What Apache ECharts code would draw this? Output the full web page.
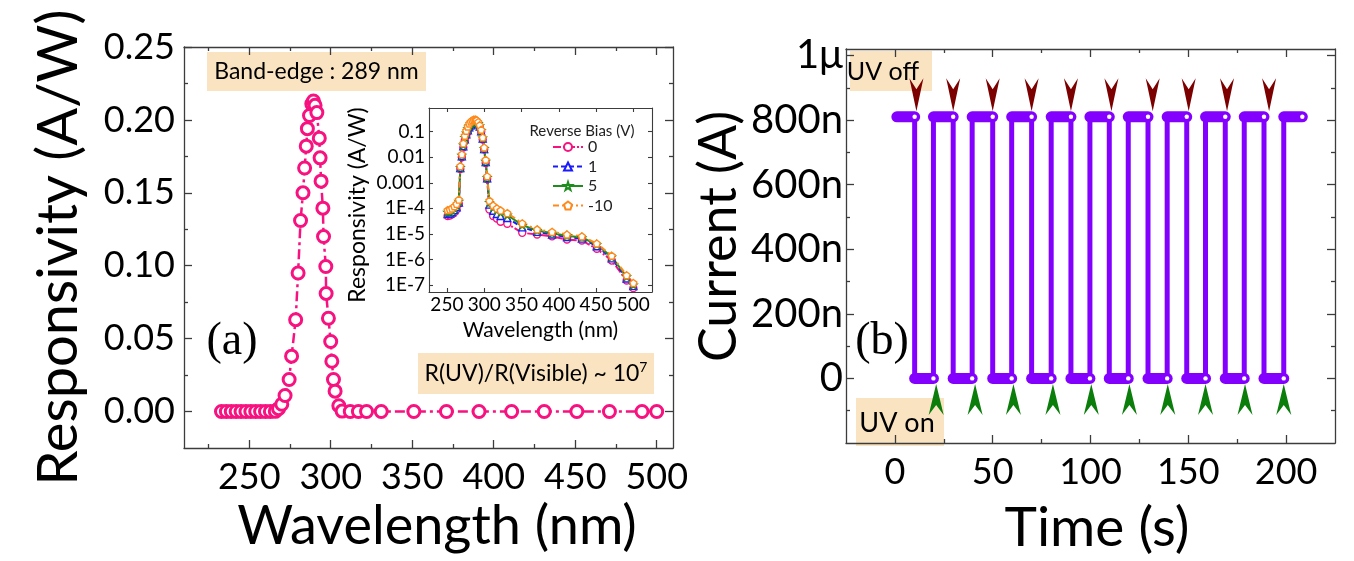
<!DOCTYPE html>
<html><head><meta charset="utf-8">
<script src="https://cdn.jsdelivr.net/npm/echarts@6/dist/echarts.min.js"></script>
<style>html,body{margin:0;padding:0;background:#fff}#c{width:1354px;height:561px}</style>
</head><body><div id="c"></div>
<script>
// ---------- Panel (a): responsivity spectrum (A/W) ----------
const mainWavelength = [233,236,239,242,245,248,251,254,257,260,263,266,
  268,270,272,274.5,276,278.5,280,281.5,283,284,285,285.7,287,288.4,289.4,
  290.4,291.5,293,293.5,294.1,295.2,295.6,297,297.2,298.6,300,300.7,301.7,302.7,
  305,307,312,317,322,331,351,371,391,411,431,451,471,491,500];
const mainResponsivity = [0.00004,0.00004,0.00004,0.00005,0.00005,0.00005,0.00005,0.00005,0.00006,0.00007,0.00009,0.00015,
  0.002,0.005,0.011,0.022,0.038,0.063,0.095,0.131,0.150,0.167,0.182,0.194,0.203,0.211,0.213,
  0.210,0.205,0.1875,0.174,0.158,0.1395,0.120,0.0995,0.081,0.064,0.048,0.0345,0.022,0.014,
  0.004,0.0003,0.00005,0.00004,0.00003,0.000025,0.000011,0.0000095,0.000008,0.000006,0.0000055,0.0000026,0.0000009,0.00000015,0.000000075];

// ---------- Inset: responsivity (log) for reverse biases ----------
const insetWavelength = [251,254,257,260,263,266,268,270,272,274,276,278,280,282,284,286,288,289,290,292,294,296,298,300,302,304,307,312,317,322,331,351,371,391,411,431,451,471,491,500];
const insetBias0 = [5e-5,5.2e-5,5.8e-5,7e-5,9e-5,1.5e-4,3.5e-3,1.0e-2,2.4e-2,4.5e-2,0.07,0.10,0.135,0.165,0.19,0.205,0.212,0.213,0.21,0.19,0.15,0.10,0.05,0.02,6e-3,1.4e-3,9e-5,5e-5,4e-5,3e-5,2.5e-5,1.1e-5,9.5e-6,8e-6,6e-6,5.5e-6,2.6e-6,9e-7,1.5e-7,7.5e-8];
const insetBias1 = [6e-5,6.3e-5,7e-5,8.5e-5,1.1e-4,1.7e-4,3.8e-3,1.1e-2,2.7e-2,5e-2,0.08,0.115,0.15,0.18,0.2,0.215,0.22,0.22,0.215,0.195,0.16,0.105,0.054,0.021,6.5e-3,1.5e-3,1.4e-4,8e-5,6e-5,5e-5,4.2e-5,1.8e-5,1.2e-5,9.5e-6,7.5e-6,6.5e-6,3.3e-6,1.1e-6,1.8e-7,9e-8];
const insetBias5 = [7e-5,7.5e-5,8.3e-5,1e-4,1.3e-4,1.9e-4,4e-3,1.2e-2,3e-2,6e-2,0.09,0.13,0.17,0.2,0.23,0.25,0.25,0.25,0.24,0.21,0.17,0.11,0.057,0.022,7e-3,1.6e-3,1.7e-4,1.1e-4,8.5e-5,7e-5,5.5e-5,2.2e-5,1.35e-5,1.05e-5,8.5e-6,7.2e-6,3.8e-6,1.25e-6,2.1e-7,1e-7];
const insetBias10 = [8.5e-5,9e-5,1e-4,1.2e-4,1.5e-4,2.2e-4,4.5e-3,1.3e-2,3.5e-2,7e-2,0.11,0.16,0.21,0.25,0.28,0.3,0.3,0.29,0.28,0.24,0.18,0.12,0.06,0.024,8e-3,1.8e-3,2e-4,1.3e-4,1e-4,8.3e-5,6.5e-5,2.6e-5,1.5e-5,1.2e-5,9.5e-6,8e-6,4.2e-6,1.4e-6,2.4e-7,1.2e-7];
const insetNames = ['0','1','5','-10'];

// ---------- Panel (b): switching current ----------
const switchTimes = [10.1,19.7,29.8,39.5,50.0,59.7,69.9,79.9,90.0,99.7,109.6,119.3,129.4,139.2,149.2,158.8,168.9,178.6,188.7,198.8];
const cycleStart = 1.0;
const cycleEnd = 208.3;
const currentHigh = 8.1e-7;
const currentLow = 0;
const uvOffArrowTimes = [11.0,29.8,50.0,69.9,90.0,110.7,131.8,150.2,169.8,191.3];
const uvOnArrowTimes = [21.1,41.0,60.6,80.8,100.4,119.9,139.5,158.8,179.0,198.8];

// ---------- Tick values ----------
const mainXTicks = [250,300,350,400,450,500];
const mainXMinor = [225,275,325,375,425,475];
const mainYTicks = [0,0.05,0.1,0.15,0.2,0.25];
const mainYMinor = [0.025,0.075,0.125,0.175,0.225];
const insetXTicks = [250,300,350,400,450,500];
const insetYTicks = [1e-7,1e-6,1e-5,1e-4,1e-3,1e-2,1e-1];
const timeTicks = [0,50,100,150,200];
const timeMinor = [25,75,125,175];
const currentTicks = [0,2e-7,4e-7,6e-7,8e-7,1e-6];
const currentMinor = [-1e-7,1e-7,3e-7,5e-7,7e-7,9e-7];

const FONT = 'Lato';
const AXIS_COLOR = '#3c3c3c';
const PINK = '#f7127f', BLUE = '#1a1aff', GREEN = '#1e8c1e', ORANGE = '#ff8a1c';
const PURPLE = '#8300ff', DARKRED = '#7d0000', ARROWGREEN = '#0b7d0b', BEIGE = '#f9e3c1';

function axisGroup(dim, gridIndex, cfg) {
  const isX = dim === 'x';
  const common = {type: cfg.type || 'value', gridIndex, min: cfg.min, max: cfg.max,
    splitLine: {show: false}, minorTick: {show: false}};
  if (cfg.type === 'log') common.logBase = 10;
  const lw = cfg.lineWidth || 1.3;
  const tickStyle = {color: AXIS_COLOR, width: lw};
  const out = [];
  (isX ? ['bottom', 'top'] : ['left', 'right']).forEach((side, si) => {
    out.push(Object.assign({}, common, {
      position: side,
      axisLine: {show: true, onZero: false, lineStyle: {color: AXIS_COLOR, width: lw}},
      axisTick: {show: true, inside: true, length: cfg.majorLen, customValues: cfg.major, lineStyle: tickStyle},
      axisLabel: si === 0 ? {show: true, customValues: cfg.major, formatter: cfg.fmt, margin: cfg.margin,
        color: '#000', fontFamily: FONT, fontSize: cfg.fontSize} : {show: false},
      name: si === 0 ? cfg.name : '',
      nameLocation: 'middle', nameGap: cfg.nameGap,
      nameTextStyle: Object.assign({fontFamily: FONT, color: '#000'}, cfg.nameStyle || {})
    }));
    if (cfg.minor) out.push(Object.assign({}, common, {
      position: side, axisLine: {show: false, onZero: false},
      axisTick: {show: true, inside: true, length: cfg.minorLen, customValues: cfg.minor, lineStyle: tickStyle},
      axisLabel: {show: false}
    }));
  });
  return out;
}

const fmtInsetY = v => v >= 0.001 ? String(+v.toPrecision(1)) : '1E' + Math.round(Math.log10(v));
const fmtCurrent = v => Math.abs(v) < 1e-12 ? '0' : (Math.abs(v - 1e-6) < 1e-12 ? '1\u03bc' : Math.round(v * 1e9) + 'n');

const xAxes = [].concat(
  axisGroup('x', 0, {min: 210, max: 510, major: mainXTicks, minor: mainXMinor, majorLen: 8, minorLen: 4,
    fmt: v => String(v), margin: 11, fontSize: 36, name: 'Wavelength (nm)', nameGap: 50,
    nameStyle: {fontSize: 54, padding: [0, 0, 0, 17]}}),
  axisGroup('x', 1, {min: 226, max: 525, major: insetXTicks, majorLen: 4, lineWidth: 1.1,
    fmt: v => String(v), margin: 3, fontSize: 19, name: 'Wavelength (nm)', nameGap: 28,
    nameStyle: {fontSize: 21}}),
  axisGroup('x', 2, {min: -25, max: 225, major: timeTicks, minor: timeMinor, majorLen: 8, minorLen: 4,
    fmt: v => String(v), margin: 11, fontSize: 36, name: 'Time (s)', nameGap: 58,
    nameStyle: {fontSize: 55, padding: [0, 0, 0, 13]}})
);
const yAxes = [].concat(
  axisGroup('y', 0, {min: -0.025, max: 0.25, major: mainYTicks, minor: mainYMinor, majorLen: 8, minorLen: 4,
    fmt: v => v.toFixed(2), margin: 9, fontSize: 36, name: 'Responsivity (A/W)', nameGap: 97,
    nameStyle: {fontSize: 56}}),
  axisGroup('y', 1, {type: 'log', min: 5.3e-8, max: 0.85, major: insetYTicks, majorLen: 4, lineWidth: 1.1,
    fmt: fmtInsetY, margin: 4, fontSize: 19, name: 'Responsivity (A/W)', nameGap: 60,
    nameStyle: {fontSize: 23, padding: [0, 10, 0, 0]}}),
  axisGroup('y', 2, {min: -2e-7, max: 1.02e-6, major: currentTicks, minor: currentMinor, majorLen: 8, minorLen: 4,
    fmt: fmtCurrent, margin: 3, fontSize: 40, name: 'Current (A)', nameGap: 101,
    nameStyle: {fontSize: 52, padding: [0, 0, 0, 19]}})
);
const MAIN = 0, INSET = 4, RIGHT = 6;

function pairs(xs, ys) { return xs.map((x, i) => [x, ys[i]]); }

// step waveform through the switching instants
const stepData = [[cycleStart, currentHigh]];
let lvl = currentHigh;
switchTimes.forEach(t => {
  stepData.push([t, lvl]);
  lvl = (lvl === currentHigh) ? currentLow : currentHigh;
  stepData.push([t, lvl]);
});
stepData.push([cycleEnd, lvl]);
// plateaus: [start, end, level]
const bounds = [cycleStart].concat(switchTimes, [cycleEnd]);
const plateauData = [];
for (let i = 0; i < bounds.length - 1; i++) {
  plateauData.push([bounds[i], bounds[i + 1], i % 2 === 0 ? currentHigh : currentLow]);
}

const PENTAGON = 'path://M10,0 L20,7.3 L16.2,19 L3.8,19 L0,7.3 Z';
const STAR = 'path://M10,0 L12.4,7.2 L20,7.3 L13.9,11.8 L16.2,19 L10,14.6 L3.8,19 L6.1,11.8 L0,7.3 L7.6,7.2 Z';
const ARROW_DOWN = 'path://M0,0 L7,11 L14,0 L7,33 Z';
const ARROW_UP = 'path://M7.5,0 L15,31 L7.5,21 L0,31 Z';

function insetSeries(name, ys, color, symbol, dash) {
  return {type: 'line', name, xAxisIndex: INSET, yAxisIndex: INSET, data: pairs(insetWavelength, ys),
    symbol, symbolSize: 7, itemStyle: {color: '#fff', borderColor: color, borderWidth: 1.4},
    lineStyle: {color, width: 2, type: dash}, z: 3};
}

const option = {
  animation: false,
  backgroundColor: '#fff',
  grid: [
    {left: 184, top: 47, width: 489, height: 401},
    {left: 429, top: 108, width: 223, height: 184},
    {left: 846, top: 49, width: 489, height: 399}
  ],
  xAxis: xAxes,
  yAxis: yAxes,
  legend: {data: insetNames, left: 552, top: 139, orient: 'vertical', padding: 0,
    itemWidth: 30, itemHeight: 10, itemGap: 3.5,
    textStyle: {fontFamily: FONT, fontSize: 16, color: '#222', lineHeight: 16}},
  graphic: [
    {type: 'rect', shape: {x: 207, y: 52, width: 219, height: 39}, style: {fill: BEIGE}, z: 0},
    {type: 'text', x: 316.5, y: 72, style: {text: 'Band-edge : 289 nm', font: '23px Lato', fill: '#000',
      textAlign: 'center', textVerticalAlign: 'middle'}, z: 1},
    {type: 'rect', shape: {x: 418, y: 353, width: 236, height: 41}, style: {fill: BEIGE}, z: 0},
    {type: 'text', x: 536, y: 374, style: {text: '{a|R(UV)/R(Visible) ~ 10}{s|7}',
      rich: {a: {fontFamily: FONT, fontSize: 23, lineHeight: 28}, s: {fontFamily: FONT, fontSize: 14, lineHeight: 28, verticalAlign: 'top'}},
      fill: '#000', textAlign: 'center', textVerticalAlign: 'middle'}, z: 1},
    {type: 'text', x: 232, y: 342, style: {text: '(a)', font: '46px "Liberation Serif"', fill: '#000',
      textAlign: 'center', textVerticalAlign: 'middle'}, z: 1},
    {type: 'rect', shape: {x: 850, y: 51, width: 82, height: 40}, style: {fill: BEIGE}, z: 0},
    {type: 'text', x: 883, y: 72, style: {text: 'UV off', font: '25px Lato', fill: '#000',
      textAlign: 'center', textVerticalAlign: 'middle'}, z: 1},
    {type: 'rect', shape: {x: 856, y: 398, width: 88, height: 48}, style: {fill: BEIGE}, z: 0},
    {type: 'text', x: 897, y: 423, style: {text: 'UV on', font: '27px Lato', fill: '#000',
      textAlign: 'center', textVerticalAlign: 'middle'}, z: 1},
    {type: 'text', x: 882, y: 342, style: {text: '(b)', font: '46px "Liberation Serif"', fill: '#000',
      textAlign: 'center', textVerticalAlign: 'middle'}, z: 1},
    {type: 'text', x: 582, y: 131, style: {text: 'Reverse Bias (V)', font: '15px Lato', fill: '#222',
      textAlign: 'center', textVerticalAlign: 'middle'}, z: 5}
  ],
  series: [
    {type: 'line', name: 'main', xAxisIndex: MAIN, yAxisIndex: MAIN, data: pairs(mainWavelength, mainResponsivity),
      symbol: 'circle', symbolSize: 12, itemStyle: {color: '#fff', borderColor: PINK, borderWidth: 3},
      lineStyle: {color: PINK, width: 2.5, type: [10, 4, 3, 4]}, z: 2},
    insetSeries('0', insetBias0, PINK, 'circle', [8, 2, 2, 2]),
    insetSeries('1', insetBias1, BLUE, 'triangle', [5, 3]),
    insetSeries('5', insetBias5, GREEN, STAR, 'solid'),
    insetSeries('-10', insetBias10, ORANGE, PENTAGON, [6, 3, 2, 3]),
    {type: 'line', name: 'step', xAxisIndex: RIGHT, yAxisIndex: RIGHT, data: stepData, symbol: 'none',
      lineStyle: {color: PURPLE, width: 5}, z: 2},
    {type: 'custom', name: 'plateau', xAxisIndex: RIGHT, yAxisIndex: RIGHT, data: plateauData,
      encode: {x: [0, 1], y: 2}, z: 3,
      renderItem: (params, api) => {
        const p0 = api.coord([api.value(0), api.value(2)]);
        const p1 = api.coord([api.value(1), api.value(2)]);
        return {type: 'group', children: [
          {type: 'line', shape: {x1: p0[0], y1: p0[1], x2: p1[0], y2: p1[1]},
            style: {stroke: PURPLE, lineWidth: 11, lineCap: 'round'}},
          {type: 'circle', shape: {cx: p1[0], cy: p1[1], r: 2.2}, style: {fill: '#fff'}}
        ]};
      }},
    {type: 'scatter', name: 'uvoff', xAxisIndex: RIGHT, yAxisIndex: RIGHT,
      data: uvOffArrowTimes.map(t => [t, currentHigh]), symbol: ARROW_DOWN, symbolSize: [14, 33],
      symbolOffset: [0, -22], itemStyle: {color: DARKRED, opacity: 1}, z: 4},
    {type: 'scatter', name: 'uvon', xAxisIndex: RIGHT, yAxisIndex: RIGHT,
      data: uvOnArrowTimes.map(t => [t, currentLow]), symbol: ARROW_UP, symbolSize: [15, 31],
      symbolOffset: [0, 21], itemStyle: {color: ARROWGREEN, opacity: 1}, z: 4}
  ]
};
const chart = echarts.init(document.getElementById('c'), null, {renderer: 'canvas'});
chart.setOption(option);
</script>
</body></html>
